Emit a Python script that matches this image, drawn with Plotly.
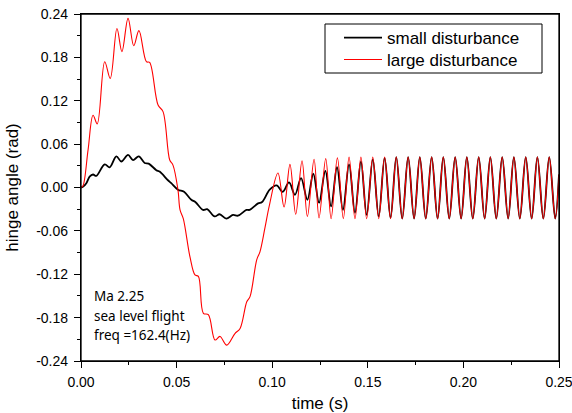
import plotly.graph_objects as go

# ---- data ----
t_small = [0.0, 0.0010, 0.0028, 0.0045, 0.0063, 0.0080, 0.0124, 0.0150, 0.0185, 0.0211,
           0.0246, 0.0272, 0.0302, 0.0333, 0.0354, 0.0394, 0.0411, 0.0455, 0.0472, 0.0507,
           0.0539, 0.0577, 0.0598, 0.0638, 0.0660, 0.0699, 0.0725, 0.0760, 0.0795, 0.0821,
           0.0865, 0.0882, 0.0926, 0.0947, 0.0987, 0.1023, 0.1055, 0.1088, 0.1119, 0.1151,
           0.1184, 0.1215, 0.1245, 0.1278, 0.1308, 0.1339, 0.1370, 0.1402, 0.1433, 0.1464,
           0.1494, 0.1526, 0.1557, 0.1588, 0.1619, 0.1649, 0.1680, 0.1711, 0.1742, 0.1772,
           0.1803, 0.1834, 0.1865, 0.1895, 0.1926, 0.1957, 0.1988, 0.2018, 0.2049, 0.2080,
           0.2111, 0.2141, 0.2172, 0.2203, 0.2234, 0.2264, 0.2295, 0.2326, 0.2357, 0.2387,
           0.2418, 0.2449, 0.2480, 0.2500]
y_small = [0.000, 0.001, 0.006, 0.015, 0.018, 0.016, 0.032, 0.028, 0.043, 0.036,
           0.045, 0.038, 0.043, 0.034, 0.033, 0.024, 0.022, 0.010, 0.006, -0.003,
           -0.006, -0.017, -0.020, -0.031, -0.030, -0.040, -0.037, -0.043, -0.038, -0.039,
           -0.031, -0.031, -0.022, -0.020, -0.003, 0.003, -0.006, 0.007, -0.010, 0.013,
           -0.017, 0.019, -0.021, 0.023, -0.026, 0.028, -0.031, 0.032, -0.035, 0.036,
           -0.038, 0.039, -0.040, 0.041, -0.042, 0.042, -0.043, 0.042, -0.043, 0.042,
           -0.043, 0.042, -0.043, 0.042, -0.043, 0.042, -0.043, 0.042, -0.043, 0.042,
           -0.043, 0.042, -0.043, 0.042, -0.043, 0.042, -0.043, 0.042, -0.043, 0.042,
           -0.043, 0.042, -0.043, 0.018]

t_large = [0.0, 0.0010, 0.0037, 0.0063, 0.0085, 0.0124, 0.0153, 0.0188, 0.0214, 0.0246,
           0.0276, 0.0303, 0.0342, 0.0359, 0.0403, 0.0429, 0.0464, 0.0481, 0.0507, 0.0518,
           0.0535, 0.0570, 0.0596, 0.0614, 0.0640, 0.0666, 0.0701, 0.0727, 0.0762, 0.0805,
           0.0832, 0.0867, 0.0884, 0.0919, 0.0936, 0.0962, 0.0985, 0.1030, 0.1062, 0.1093,
           0.1123, 0.1156, 0.1184, 0.1219, 0.1245, 0.1280, 0.1308, 0.1341, 0.1372, 0.1402,
           0.1433, 0.1464, 0.1494, 0.1526, 0.1557, 0.1588, 0.1619, 0.1649, 0.1680, 0.1711,
           0.1742, 0.1772, 0.1803, 0.1834, 0.1865, 0.1895, 0.1926, 0.1957, 0.1988, 0.2018,
           0.2049, 0.2080, 0.2111, 0.2141, 0.2172, 0.2203, 0.2234, 0.2264, 0.2295, 0.2326,
           0.2357, 0.2387, 0.2418, 0.2449, 0.2480, 0.2500]
y_large = [0.000, 0.002, 0.052, 0.100, 0.088, 0.174, 0.151, 0.220, 0.188, 0.234,
           0.196, 0.217, 0.174, 0.173, 0.114, 0.105, 0.038, 0.031, -0.003, -0.031,
           -0.043, -0.096, -0.121, -0.123, -0.174, -0.176, -0.211, -0.206, -0.218, -0.202,
           -0.195, -0.158, -0.151, -0.100, -0.089, -0.056, -0.025, 0.020, -0.027, 0.032,
           -0.037, 0.037, -0.040, 0.039, -0.042, 0.040, -0.043, 0.041, -0.043, 0.042,
           -0.043, 0.042, -0.043, 0.042, -0.043, 0.042, -0.043, 0.042, -0.043, 0.042,
           -0.043, 0.042, -0.043, 0.042, -0.043, 0.042, -0.043, 0.042, -0.043, 0.042,
           -0.043, 0.042, -0.043, 0.042, -0.043, 0.042, -0.043, 0.042, -0.043, 0.042,
           -0.043, 0.042, -0.043, 0.042, -0.043, 0.018]

x_ticks = [0.00, 0.05, 0.10, 0.15, 0.20, 0.25]
y_ticks = [-0.24, -0.18, -0.12, -0.06, 0.00, 0.06, 0.12, 0.18, 0.24]
notes = ["Ma 2.25", "sea level flight", "freq =162.4(Hz)"]

FONT = "Liberation Sans, Arial"

fig = go.Figure()
fig.add_trace(go.Scatter(x=t_small, y=y_small, mode="lines", name="small disturbance",
                         legend="legend",
                         line=dict(color="black", width=1.8, shape="spline")))
fig.add_trace(go.Scatter(x=t_large, y=y_large, mode="lines", name="large disturbance",
                         legend="legend2",
                         line=dict(color="#ff0000", width=1.1, shape="spline")))

axis_common = dict(showline=True, linecolor="black", linewidth=1.3, mirror=True,
                   ticks="outside", ticklen=6, tickwidth=1.2, tickcolor="black",
                   showgrid=False, zeroline=False, automargin=False,
                   ticklabeloverflow="allow",
                   tickfont=dict(family=FONT, size=14, color="black"))

fig.update_xaxes(range=[-1e-7, 0.25 + 1e-7], tickvals=x_ticks,
                 ticktext=[f"{v:.2f}" for v in x_ticks],
                 ticklabelstandoff=2,
                 minor=dict(ticks="outside", ticklen=3, tickcolor="black", dtick=0.025, tick0=0),
                 title=dict(text="time (s)", font=dict(family=FONT, size=17, color="black"),
                            standoff=10),
                 **axis_common)
fig.update_yaxes(range=[-0.24 - 1e-7, 0.24 + 1e-7], tickvals=y_ticks,
                 ticktext=[f"{v:.2f}" for v in y_ticks],
                 ticklabelstandoff=3,
                 minor=dict(ticks="outside", ticklen=3, tickcolor="black", dtick=0.03, tick0=0),
                 title=dict(text="hinge angle (rad)", font=dict(family=FONT, size=17, color="black"),
                            standoff=13),
                 **axis_common)

# plot frame and legend frame
fig.add_shape(type="rect", xref="paper", yref="paper", x0=0, x1=1, y0=0, y1=1,
              line=dict(color="black", width=1.3), fillcolor="rgba(0,0,0,0)", layer="above")
fig.add_shape(type="rect", xref="paper", yref="paper",
              x0=(325 - 81) / 478, x1=(542 - 81) / 478,
              y0=(361 - 73) / 347, y1=(361 - 24) / 347,
              line=dict(color="black", width=1), fillcolor="rgba(0,0,0,0)")

note_y = [0.188, 0.131, 0.074]
for txt, yy in zip(notes, note_y):
    fig.add_annotation(text=txt, x=0.022, y=yy, xref="paper", yref="paper",
                       xanchor="left", yanchor="middle", showarrow=False,
                       font=dict(family="Noto Sans", size=13.5, color="black"))

leg_common = dict(xanchor="left", yanchor="middle", bgcolor="rgba(0,0,0,0)",
                  borderwidth=0, itemwidth=38,
                  font=dict(family=FONT, size=17, color="black"))

fig.update_layout(
    width=572, height=413,
    margin=dict(l=81, r=13, t=14, b=52),
    paper_bgcolor="white", plot_bgcolor="white",
    legend=dict(x=(339 - 81) / 478, y=(361 - 38) / 347, **leg_common),
    legend2=dict(x=(339 - 81) / 478, y=(361 - 60) / 347, **leg_common),
    showlegend=True,
)

fig.write_html("out.html", config={"displayModeBar": False},
               post_script="document.body.style.margin='0';document.body.style.overflow='hidden';")
